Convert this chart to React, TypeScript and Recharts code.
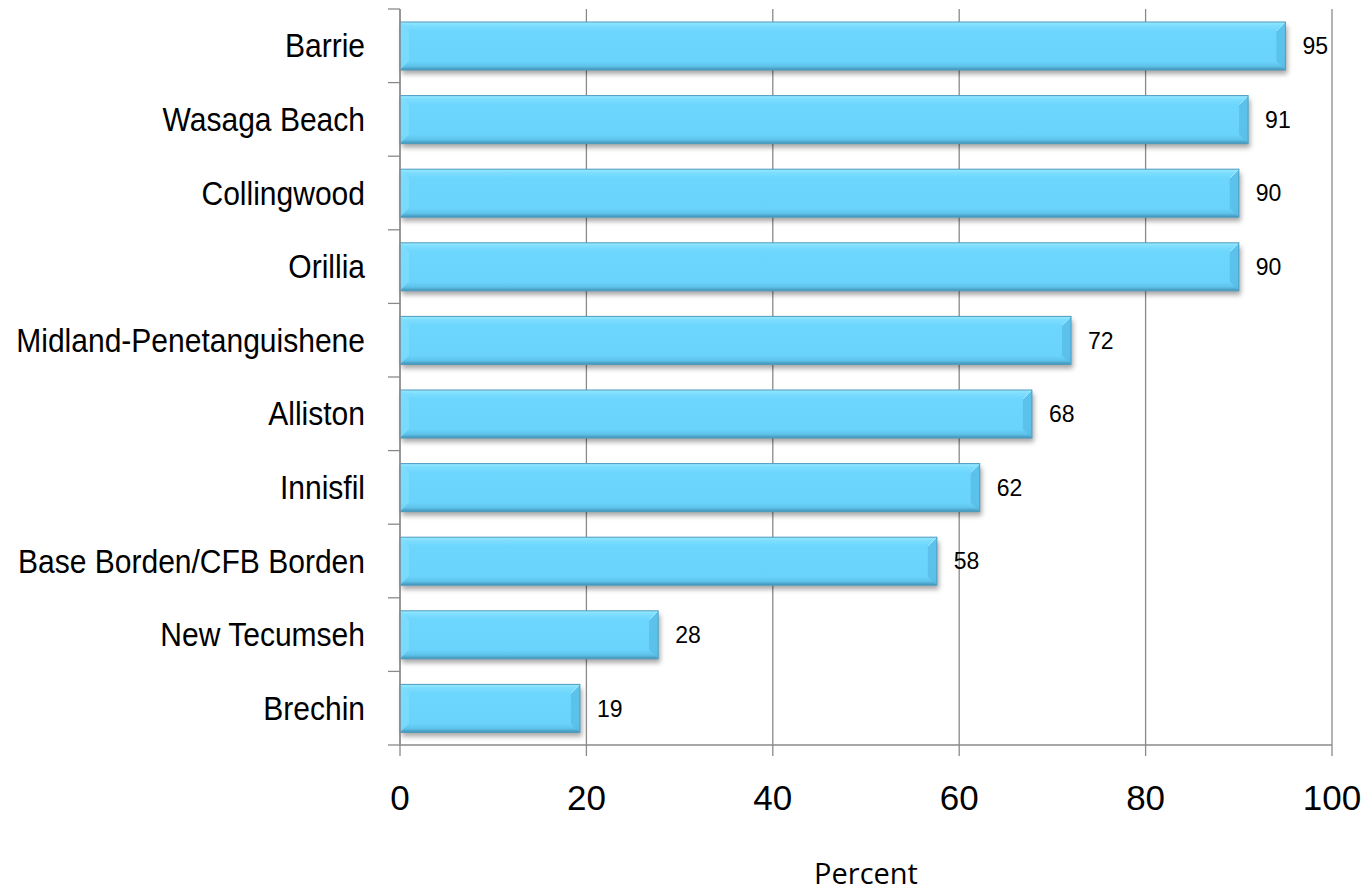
import React from "react";
import { BarChart, Bar, XAxis, YAxis, CartesianGrid, LabelList } from "recharts";

const towns = [
  "Barrie", "Wasaga Beach", "Collingwood", "Orillia", "Midland-Penetanguishene",
  "Alliston", "Innisfil", "Base Borden/CFB Borden", "New Tecumseh", "Brechin",
];
const percents = [95, 91, 90, 90, 72, 67.8, 62.2, 57.6, 27.7, 19.3];
const xTicks = [0, 20, 40, 60, 80, 100];

const data = towns.map((name, i) => ({ name, value: percents[i] }));

const W = 1369;
const H = 895;
const TOP = 9;
const X_AXIS_H = 150;
const BAND = (H - TOP - X_AXIS_H) / towns.length;
const Y_TICK = 12;
const Y_MARGIN = 23;
const AXIS = "#8a8a8a";
const FONT = "'Liberation Sans', Arial, sans-serif";

function TownTick(props: any) {
  const { x, y, payload, index } = props;
  const ax = x + Y_TICK + Y_MARGIN;
  const top = y - BAND / 2;
  return (
    <g>
      <line x1={ax - Y_TICK} x2={ax} y1={top} y2={top} stroke={AXIS} strokeWidth={1.3} />
      {index === towns.length - 1 && (
        <line x1={ax - Y_TICK} x2={ax} y1={top + BAND} y2={top + BAND} stroke={AXIS} strokeWidth={1.3} />
      )}
      <text
        transform={`translate(${x},${y}) scale(0.91,1)`}
        textAnchor="end"
        dy="0.35em"
        fontSize={33}
        fontFamily={FONT}
        fill="#000"
      >
        {payload.value}
      </text>
    </g>
  );
}

function BevelBar(props: any) {
  const { x, y, width, height, index } = props;
  if (!width || width <= 0) return null;
  const b = Math.min(9, width / 3);
  const gid = `barFill${index}`;
  const fid = `barShadow${index}`;
  return (
    <g>
      <defs>
        <linearGradient id={gid} x1="0" y1="0" x2="0" y2="1">
          <stop offset="0" stopColor="#9ae9ff" />
          <stop offset="0.07" stopColor="#7edeff" />
          <stop offset="0.18" stopColor="#6dd6fd" />
          <stop offset="0.82" stopColor="#6ad3fb" />
          <stop offset="0.92" stopColor="#5ec3ea" />
          <stop offset="1" stopColor="#4291b5" />
        </linearGradient>
        <filter id={fid} x="-5%" y="-20%" width="115%" height="160%">
          <feDropShadow dx="2" dy="4" stdDeviation="2.5" floodColor="#000" floodOpacity="0.35" />
        </filter>
      </defs>
      <rect x={x} y={y} width={width} height={height} fill={`url(#${gid})`} filter={`url(#${fid})`} />
      <polygon
        points={`${x},${y} ${x + b},${y + b} ${x + b},${y + height - b} ${x},${y + height}`}
        fill="#82ddff"
        opacity={0.7}
      />
      <polygon
        points={`${x + width - b},${y + b} ${x + width},${y} ${x + width},${y + height} ${x + width - b},${y + height - b}`}
        fill="#58bde6"
        opacity={0.8}
      />
      <line x1={x + width - b} y1={y + b} x2={x + width} y2={y} stroke="#a6ecff" strokeWidth={1} />
      <rect x={x} y={y} width={width} height={height} fill="none" stroke="#4c9cc0" strokeWidth={1} />
    </g>
  );
}

export default function App() {
  return (
    <div style={{ position: "absolute", left: 0, top: 0, width: W, height: H, background: "#fff" }}>
      <BarChart
        width={W}
        height={H}
        data={data}
        layout="vertical"
        margin={{ top: TOP, right: 37, left: 0, bottom: 0 }}
      >
        <CartesianGrid horizontal={false} stroke={AXIS} strokeWidth={1.3} />
        <XAxis
          type="number"
          domain={[0, 100]}
          ticks={xTicks}
          height={X_AXIS_H}
          tickSize={11}
          tickMargin={29}
          axisLine={{ stroke: AXIS, strokeWidth: 1.3 }}
          tickLine={{ stroke: AXIS, strokeWidth: 1.3 }}
          tick={{ fontSize: 35, fill: "#000", fontFamily: FONT }}
          label={{
            value: "Percent",
            position: "insideBottom",
            offset: 11,
            fontSize: 29,
            fill: "#000",
            fontFamily: "'Open Sans', sans-serif",
          }}
        />
        <YAxis
          type="category"
          dataKey="name"
          width={400}
          tickSize={Y_TICK}
          tickMargin={Y_MARGIN}
          tickLine={false}
          axisLine={{ stroke: AXIS, strokeWidth: 1.3 }}
          tick={<TownTick />}
          interval={0}
        />
        <Bar dataKey="value" barSize={48} shape={<BevelBar />} isAnimationActive={false}>
          <LabelList
            dataKey="value"
            position="right"
            offset={17}
            formatter={(v: any) => Math.round(Number(v))}
            style={{ fontSize: 23, fill: "#000", fontFamily: FONT }}
          />
        </Bar>
      </BarChart>
    </div>
  );
}
